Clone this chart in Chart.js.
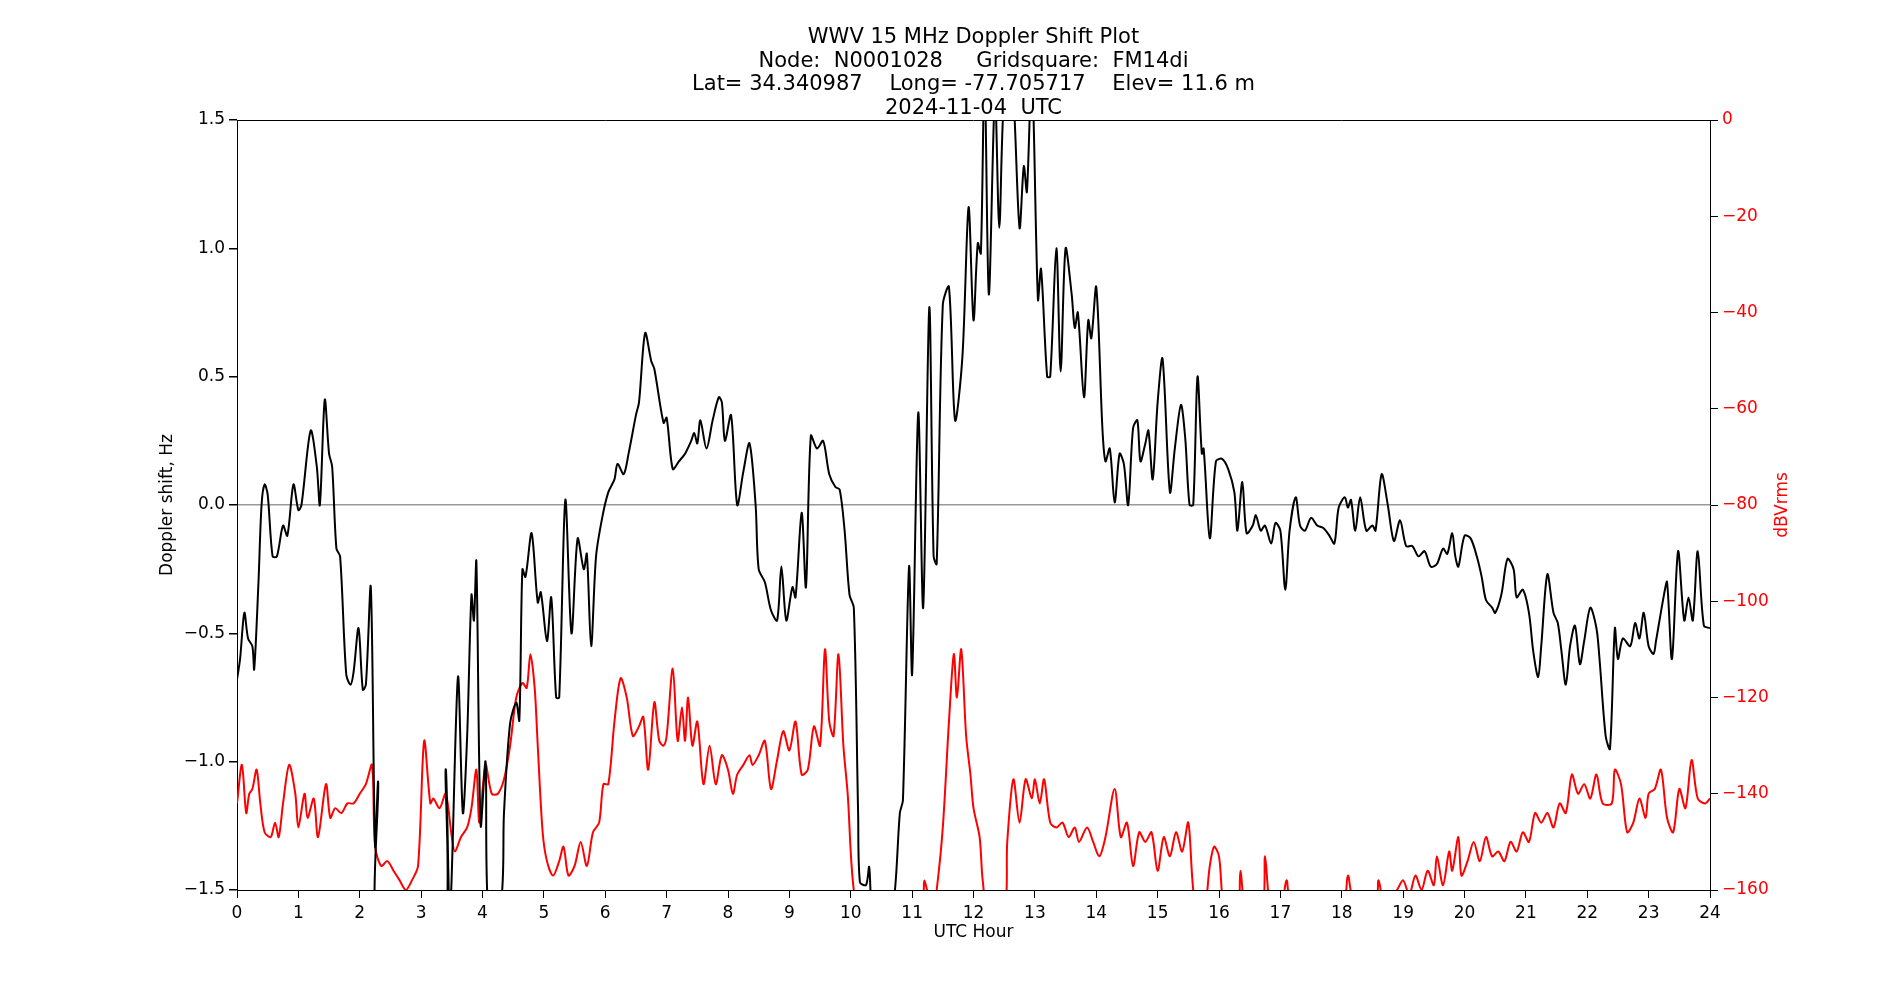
<!DOCTYPE html>
<html>
<head>
<meta charset="utf-8">
<script src="https://cdn.jsdelivr.net/npm/chart.js@4"></script>
<style>
  body { margin: 0; background: #fff; }
  canvas { display: block; }
</style>
</head>
<body>
<canvas id="chart" width="1900" height="1000"></canvas>
<script>
// ======== Data ========
const titleLines = [
  'WWV 15 MHz Doppler Shift Plot',
  'Node:  N0001028     Gridsquare:  FM14di',
  'Lat= 34.340987    Long= -77.705717    Elev= 11.6 m',
  '2024-11-04  UTC'
];

const dopplerHours = [0.0,0.05,0.12,0.18,0.25,0.28,0.35,0.4,0.45,0.5,0.58,0.65,0.75,0.82,0.92,1.0,1.05,1.2,1.3,1.35,1.43,1.5,1.55,1.62,1.68,1.78,1.85,1.9,1.98,2.05,2.1,2.18,2.25,2.3,2.35,
  3.3,3.4,3.47,3.6,3.68,3.75,3.82,3.86,3.9,3.97,4.05,4.1,4.3,4.35,4.45,4.55,4.6,4.65,4.7,4.8,4.9,4.95,5.05,5.12,5.2,5.25,5.35,5.45,5.55,5.65,5.7,5.77,5.85,5.95,6.05,6.15,6.2,6.3,6.38,6.5,6.55,6.65,6.75,6.8,6.95,7.0,7.1,7.2,7.3,7.4,7.45,7.5,7.55,7.65,7.75,7.85,7.9,7.95,8.05,8.15,8.25,8.35,8.45,8.5,8.6,8.7,8.8,8.87,8.95,9.05,9.1,9.2,9.27,9.35,9.45,9.55,9.65,9.75,9.82,9.9,9.98,10.05,10.12,10.15,10.25,10.3,10.35,10.55,10.72,10.8,10.85,10.95,11.0,11.1,11.18,11.28,11.35,11.4,11.5,11.6,11.7,11.82,11.92,12.0,12.07,12.12,12.18,12.25,12.35,12.42,12.5,12.62,12.75,12.82,12.87,12.95,13.05,13.1,13.2,13.25,13.35,13.42,13.5,13.6,13.65,13.7,13.8,13.87,13.92,14.0,14.1,14.15,14.22,14.3,14.38,14.45,14.52,14.6,14.67,14.72,14.8,14.85,14.92,15.0,15.08,15.2,15.28,15.38,15.45,15.52,15.58,15.65,15.72,15.75,15.85,15.95,16.05,16.15,16.25,16.3,16.38,16.45,16.55,16.6,16.68,16.75,16.85,16.92,17.0,17.08,17.15,17.25,17.32,17.4,17.5,17.6,17.7,17.8,17.88,17.95,18.05,18.1,18.15,18.22,18.3,18.4,18.5,18.55,18.65,18.75,18.85,18.95,19.05,19.15,19.25,19.35,19.45,19.55,19.65,19.72,19.8,19.85,19.9,20.0,20.1,20.2,20.28,20.35,20.45,20.5,20.6,20.7,20.8,20.85,20.95,21.05,21.12,21.2,21.25,21.35,21.45,21.52,21.58,21.65,21.72,21.8,21.88,21.95,22.05,22.15,22.2,22.3,22.37,22.45,22.5,22.58,22.7,22.78,22.85,22.92,23.0,23.08,23.12,23.25,23.3,23.38,23.48,23.58,23.65,23.72,23.8,23.9,24.0];
const dopplerHz = [-0.68,-0.6,-0.42,-0.52,-0.55,-0.64,-0.3,0.0,0.08,0.04,-0.2,-0.2,-0.08,-0.12,0.08,-0.02,0.0,0.29,0.15,0.0,0.41,0.2,0.15,-0.17,-0.2,-0.66,-0.7,-0.65,-0.48,-0.72,-0.7,-0.32,-1.33,-1.08,-1.8,
  -1.8,-1.03,-1.6,-0.67,-1.2,-0.9,-0.35,-0.45,-0.22,-1.25,-1.0,-1.6,-1.55,-1.2,-0.85,-0.77,-0.84,-0.25,-0.28,-0.11,-0.38,-0.34,-0.53,-0.36,-0.75,-0.75,0.02,-0.5,-0.13,-0.25,-0.19,-0.55,-0.2,-0.05,0.05,0.1,0.16,0.12,0.2,0.35,0.4,0.67,0.56,0.53,0.32,0.34,0.14,0.17,0.2,0.25,0.28,0.24,0.33,0.22,0.33,0.42,0.4,0.25,0.35,0.0,0.13,0.24,0.0,-0.25,-0.3,-0.41,-0.45,-0.24,-0.45,-0.32,-0.36,-0.03,-0.32,0.27,0.22,0.25,0.12,0.07,0.06,-0.1,-0.35,-0.4,-1.2,-1.47,-1.48,-1.41,-1.6,-1.8,-1.5,-1.2,-1.15,-0.24,-0.66,0.36,-0.4,0.77,-0.2,-0.23,0.78,0.85,0.33,0.58,1.16,0.72,1.02,0.98,1.7,0.82,1.6,1.08,1.6,1.7,1.08,1.32,1.22,1.7,0.8,0.92,0.5,0.5,1.0,0.52,1.0,0.82,0.69,0.75,0.42,0.72,0.65,0.85,0.3,0.17,0.22,0.01,0.2,0.16,0.0,0.3,0.33,0.17,0.24,0.29,0.1,0.4,0.57,0.05,0.22,0.39,0.26,0.0,0.0,0.5,0.2,0.22,-0.13,0.17,0.18,0.14,0.05,-0.1,0.09,-0.11,-0.08,-0.04,-0.1,-0.08,-0.15,-0.07,-0.1,-0.33,-0.1,0.03,-0.08,-0.1,-0.05,-0.08,-0.09,-0.12,-0.15,-0.01,0.03,-0.01,0.02,-0.1,0.03,-0.1,-0.08,-0.1,0.12,0.0,-0.14,-0.06,-0.16,-0.16,-0.2,-0.18,-0.24,-0.23,-0.17,-0.19,-0.11,-0.2,-0.24,-0.12,-0.13,-0.2,-0.28,-0.37,-0.4,-0.42,-0.35,-0.21,-0.25,-0.36,-0.33,-0.42,-0.57,-0.67,-0.55,-0.27,-0.42,-0.46,-0.57,-0.7,-0.55,-0.47,-0.62,-0.53,-0.4,-0.48,-0.6,-0.9,-0.95,-0.48,-0.6,-0.52,-0.55,-0.46,-0.52,-0.42,-0.55,-0.58,-0.53,-0.35,-0.3,-0.6,-0.18,-0.45,-0.36,-0.45,-0.18,-0.47,-0.48];

const powerHours = [0.0,0.08,0.15,0.2,0.25,0.32,0.38,0.45,0.55,0.62,0.68,0.75,0.85,0.95,1.0,1.1,1.15,1.25,1.32,1.45,1.52,1.6,1.7,1.8,1.9,2.0,2.1,2.2,2.25,2.35,2.45,2.55,2.65,2.75,2.85,2.95,3.05,3.15,3.2,3.3,3.4,3.5,3.55,3.65,3.75,3.82,3.9,3.95,4.05,4.15,4.25,4.35,4.45,4.55,4.65,4.72,4.78,4.85,4.9,4.98,5.05,5.15,5.25,5.32,5.4,5.5,5.6,5.7,5.8,5.9,5.97,6.05,6.15,6.25,6.35,6.45,6.55,6.62,6.7,6.8,6.88,6.95,7.0,7.1,7.18,7.25,7.3,7.35,7.42,7.5,7.6,7.7,7.8,7.9,8.0,8.08,8.15,8.25,8.35,8.4,8.5,8.6,8.7,8.8,8.9,9.0,9.1,9.2,9.3,9.4,9.5,9.58,9.65,9.72,9.8,9.88,9.95,10.05,10.2,10.6,11.15,11.2,11.28,11.35,11.4,11.5,11.6,11.68,11.73,11.8,11.88,11.95,12.0,12.1,12.15,12.25,12.5,12.55,12.65,12.75,12.85,12.95,13.0,13.08,13.15,13.25,13.35,13.45,13.55,13.65,13.72,13.85,13.95,14.05,14.15,14.3,14.4,14.5,14.6,14.7,14.8,14.9,15.0,15.1,15.2,15.3,15.4,15.5,15.6,15.75,15.85,15.92,16.0,16.1,16.3,16.35,16.45,16.7,16.75,16.85,17.0,17.1,17.2,18.0,18.1,18.2,18.55,18.6,18.7,18.9,19.0,19.1,19.2,19.3,19.4,19.5,19.55,19.65,19.75,19.8,19.9,19.95,20.05,20.15,20.25,20.35,20.45,20.55,20.65,20.75,20.85,20.95,21.05,21.15,21.25,21.35,21.45,21.55,21.65,21.75,21.85,21.95,22.05,22.15,22.25,22.4,22.45,22.55,22.65,22.75,22.85,22.95,23.0,23.1,23.2,23.3,23.4,23.5,23.6,23.7,23.8,23.92,24.0];
const powerDb = [-142,-134,-144,-140,-139,-135,-142,-148,-149,-146,-149,-142,-134,-140,-147,-140,-145,-141,-149,-138,-145,-143,-144,-142,-142,-140,-138,-134,-151,-155,-154,-156,-158,-160,-158,-155,-129,-142,-141,-143,-140,-149,-152,-149,-147,-143,-135,-146,-134,-140,-140,-137,-130,-120,-117,-118,-111,-118,-130,-148,-154,-157,-154,-151,-157,-155,-150,-155,-148,-146,-138,-138,-125,-116,-120,-128,-126,-124,-135,-121,-129,-130,-128,-114,-129,-122,-129,-120,-130,-125,-138,-130,-138,-132,-135,-140,-136,-134,-132,-134,-132,-129,-139,-133,-127,-131,-125,-136,-135,-126,-130,-110,-125,-128,-111,-130,-140,-160,-165,-165,-162,-158,-162,-163,-160,-147,-125,-111,-120,-110,-128,-136,-143,-149,-158,-165,-165,-150,-137,-146,-137,-141,-137,-142,-137,-146,-147,-146,-149,-147,-150,-147,-150,-153,-149,-139,-149,-146,-155,-148,-150,-148,-156,-149,-153,-148,-152,-146,-162,-165,-155,-151,-153,-165,-165,-156,-165,-165,-153,-165,-165,-158,-163,-163,-157,-162,-162,-158,-163,-160,-158,-161,-157,-160,-156,-159,-153,-159,-152,-156,-149,-157,-154,-150,-154,-149,-153,-152,-154,-150,-152,-148,-150,-144,-146,-144,-147,-142,-144,-136,-140,-138,-141,-136,-142,-142,-135,-138,-148,-146,-141,-145,-140,-139,-135,-145,-148,-139,-143,-133,-141,-142,-141];

const hourTicks = [0,1,2,3,4,5,6,7,8,9,10,11,12,13,14,15,16,17,18,19,20,21,22,23,24];

// ======== Helpers ========
function toPoints(xs, ys) {
  return xs.map((x, i) => ({ x: x, y: ys[i] }));
}
function fmtMinus(v, digits) {
  const s = Math.abs(v).toFixed(digits);
  return v < 0 ? '\u2212' + s : s;
}

const FONT = '"DejaVu Sans", sans-serif';

// title, axis titles and frame
const decorPlugin = {
  id: 'decor',
  afterDraw(chart) {
    const ctx = chart.ctx;
    const a = chart.chartArea;
    ctx.save();
    ctx.strokeStyle = '#000';
    ctx.lineWidth = 1;
    ctx.beginPath();
    ctx.moveTo(a.left, a.top + 0.5);
    ctx.lineTo(a.right, a.top + 0.5);
    ctx.stroke();
    ctx.fillStyle = '#000';
    ctx.textAlign = 'center';
    ctx.textBaseline = 'middle';
    ctx.font = '21px ' + FONT;
    const cx = (a.left + a.right) / 2;
    titleLines.forEach((t, i) => ctx.fillText(t, cx, 38 + i * 23.5));
    ctx.font = '17px ' + FONT;
    ctx.fillText('UTC Hour', cx, 933);
    ctx.save();
    ctx.translate(168, 505);
    ctx.rotate(-Math.PI / 2);
    ctx.fillText('Doppler shift, Hz', 0, 0);
    ctx.restore();
    ctx.save();
    ctx.fillStyle = 'red';
    ctx.translate(1783, 505);
    ctx.rotate(-Math.PI / 2);
    ctx.fillText('dBVrms', 0, 0);
    ctx.restore();
    ctx.restore();
  }
};

const tickFont = { family: FONT, size: 17 };

new Chart(document.getElementById('chart'), {
  type: 'line',
  data: {
    datasets: [
      {
        label: 'Doppler',
        data: toPoints(dopplerHours, dopplerHz),
        borderColor: '#000',
        borderWidth: 2,
        pointRadius: 0,
        tension: 0.3,
        yAxisID: 'y'
      },
      {
        label: 'Power',
        data: toPoints(powerHours, powerDb),
        borderColor: 'red',
        borderWidth: 2,
        pointRadius: 0,
        tension: 0.3,
        yAxisID: 'y2'
      }
    ]
  },
  options: {
    responsive: false,
    animation: false,
    layout: { padding: { top: 120, left: 0, right: 0, bottom: 0 } },
    plugins: { legend: { display: false }, tooltip: { enabled: false } },
    scales: {
      x: {
        type: 'linear',
        min: 0, max: 24,
        afterBuildTicks: s => { s.ticks = hourTicks.map(v => ({ value: v })); },
        ticks: { color: '#000', font: tickFont, maxRotation: 0, padding: 5, callback: v => v },
        grid: { color: 'transparent', tickColor: '#000', tickLength: 8, drawOnChartArea: false },
        border: { color: '#000' },
        afterFit: s => { s.height = 110; }
      },
      y: {
        position: 'left',
        min: -1.5, max: 1.5,
        ticks: { stepSize: 0.5, color: '#000', font: tickFont, padding: 4, callback: v => fmtMinus(v, 1) },
        grid: {
          color: c => (c.tick && c.tick.value === 0 ? '#999' : 'transparent'),
          lineWidth: 1.5,
          tickColor: '#000', tickLength: 8
        },
        border: { color: '#000' },
        afterFit: s => { s.width = 237; }
      },
      y2: {
        position: 'right',
        min: -160, max: 0,
        ticks: { stepSize: 20, color: 'red', font: tickFont, padding: 4, callback: v => fmtMinus(v, 0) },
        grid: { drawOnChartArea: false, tickColor: '#000', tickLength: 8 },
        border: { color: '#000' },
        afterFit: s => { s.width = 190; }
      }
    }
  },
  plugins: [decorPlugin]
});
</script>
</body>
</html>
